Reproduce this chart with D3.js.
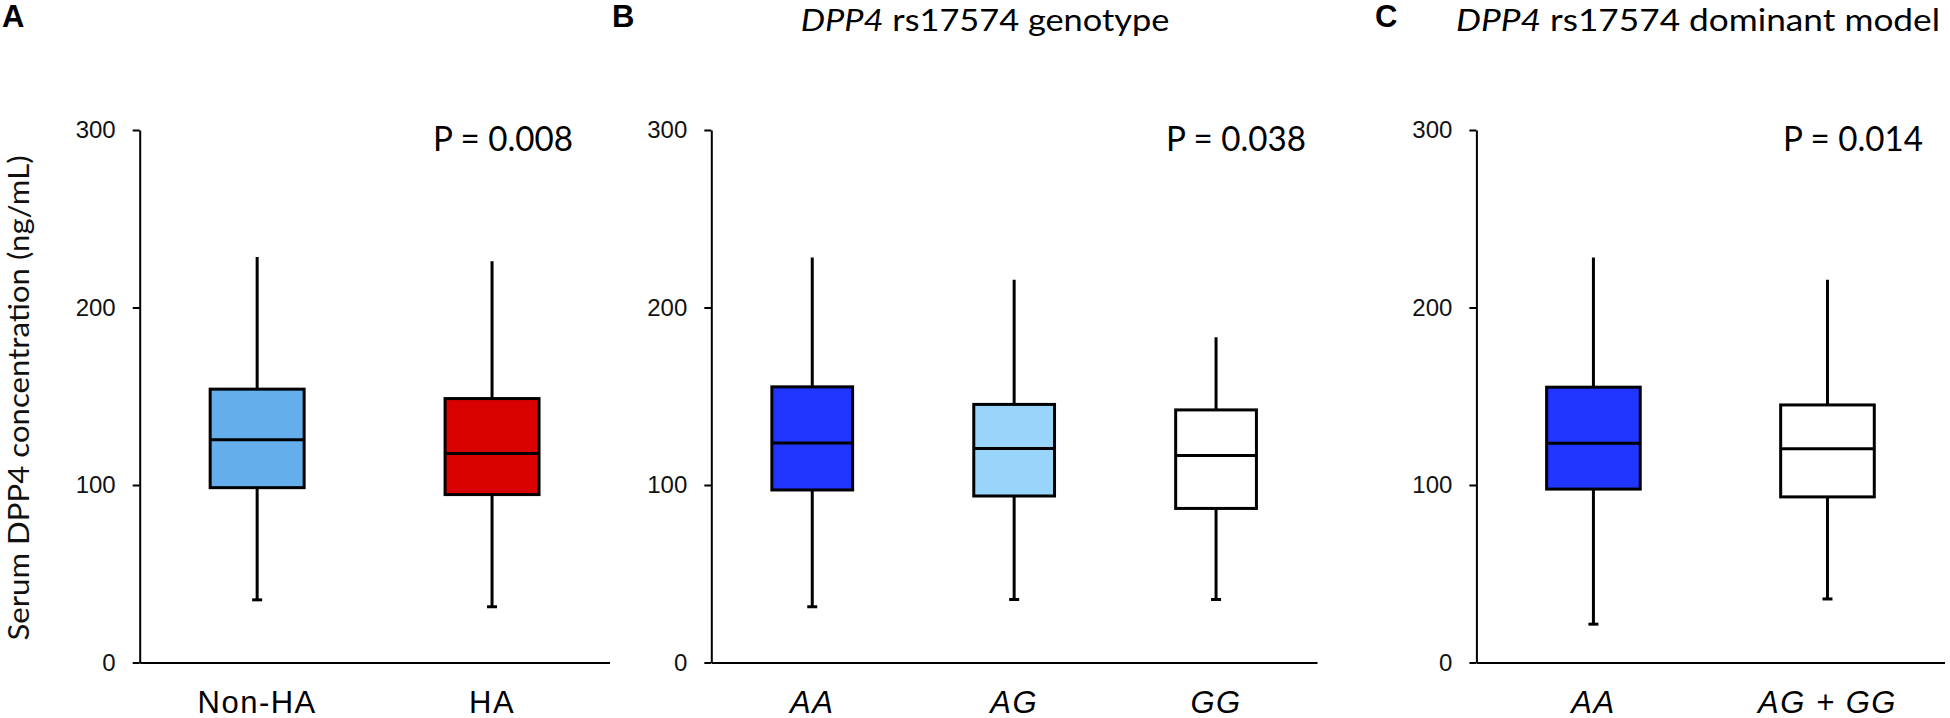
<!DOCTYPE html>
<html>
<head>
<meta charset="utf-8">
<script src="https://cdn.jsdelivr.net/npm/d3@7"></script>
<style>
    body { margin: 0; background: #fff; }
</style>
</head>
<body>
<svg id="chart" width="1950" height="718"></svg>
<script>

// values (ng/mL)
var yTicks = [0, 100, 200, 300];
var pValues = ["P = 0.008", "P = 0.038", "P = 0.014"];

var groupsA = ["Non-HA", "HA"];
var maxA = [228.5, 226.0];
var q3A = [154.0, 148.7];
var medA = [125.5, 117.8];
var q1A = [98.5, 94.6];
var minA = [35.3, 31.4];

var groupsB = ["AA", "AG", "GG"];
var maxB = [228.1, 215.7, 183.3];
var q3B = [155.3, 145.4, 142.3];
var medB = [123.7, 120.6, 116.6];
var q1B = [97.2, 93.8, 86.8];
var minB = [31.4, 35.5, 35.5];

var groupsC = ["AA", "AG + GG"];
var maxC = [228.1, 215.7];
var q3C = [155.1, 145.1];
var medC = [123.5, 120.4];
var q1C = [97.7, 93.3];
var minC = [21.6, 35.8];

var fillsA = ["#63aeeb", "#d90000"];
var fillsB = ["#2035ff", "#99d5fa", "#ffffff"];
var fillsC = ["#2035ff", "#ffffff"];

var panels = [
    {letter: "A", letterX: 2, groups: groupsA, max: maxA, q3: q3A, med: medA, q1: q1A, min: minA,
     fills: fillsA, x0: 139.7, x1: 609.5, p: pValues[0], pX: 433, italic: false, title: null},
    {letter: "B", letterX: 612, groups: groupsB, max: maxB, q3: q3B, med: medB, q1: q1B, min: minB,
     fills: fillsB, x0: 711.3, x1: 1317, p: pValues[1], pX: 1166, italic: true,
     title: ["DPP4", " rs17574 genotype"], titleX: 800.7, titleW: 368.6},
    {letter: "C", letterX: 1375, groups: groupsC, max: maxC, q3: q3C, med: medC, q1: q1C, min: minC,
     fills: fillsC, x0: 1476.4, x1: 1944.5, p: pValues[2], pX: 1783, italic: true,
     title: ["DPP4", " rs17574 dominant model"], titleX: 1456, titleW: 484}
];

var svg = d3.select("#chart");

var y = d3.scaleLinear()
    .domain([0, 300])
    .range([662.5, 130]);

var arial = "'Liberation Sans', Arial, sans-serif";
var calibri = "Lato, Carlito, Calibri, sans-serif";

// y axis title, shared by all panels
svg.append("text")
    .attr("transform", "translate(29,398) rotate(-90)")
    .attr("text-anchor", "middle")
    .attr("textLength", 485)
    .attr("lengthAdjust", "spacingAndGlyphs")
    .style("font-family", calibri)
    .style("font-size", "28px")
    .attr("fill", "#111")
    .text("Serum DPP4 concentration (ng/mL)");

panels.forEach(function(p) {

    var x = d3.scaleBand()
        .domain(p.groups)
        .range([p.x0, p.x1]);

    var boxW = x.bandwidth() * 0.4;

    var rows = p.groups.map(function(g, i) {
        return {key: g, max: p.max[i], q3: p.q3[i], med: p.med[i], q1: p.q1[i], min: p.min[i], fill: p.fills[i]};
    });

    // y axis
    var gy = svg.append("g")
        .attr("transform", "translate(" + p.x0 + ",0)")
        .call(d3.axisLeft(y).tickValues(yTicks).tickSizeInner(7).tickSizeOuter(0).tickPadding(17));
    gy.selectAll("path, line").attr("stroke", "#000").attr("stroke-width", 2);
    gy.selectAll("text")
        .style("font-family", arial)
        .style("font-size", "24px")
        .attr("fill", "#111");

    // x axis
    var gx = svg.append("g")
        .attr("transform", "translate(0," + y(0) + ")")
        .call(d3.axisBottom(x).tickSize(0).tickSizeOuter(0));
    gx.select(".domain").attr("stroke", "#000").attr("stroke-width", 2);
    gx.selectAll("text")
        .attr("y", 50)
        .attr("dy", 0)
        .style("font-family", arial)
        .style("font-size", "31px")
        .style("font-style", p.italic ? "italic" : "normal")
        .style("letter-spacing", "1.5px")
        .attr("fill", "#000");

    var box = svg.append("g").selectAll("g")
        .data(rows)
        .enter().append("g")
        .attr("transform", function(d) { return "translate(" + (x(d.key) + x.bandwidth() / 2) + ",0)"; });

    // whisker
    box.append("line")
        .attr("y1", function(d) { return y(d.max); })
        .attr("y2", function(d) { return y(d.min); })
        .attr("stroke", "#000")
        .attr("stroke-width", 3);

    // small cap at the low end
    box.append("line")
        .attr("x1", -5)
        .attr("x2", 5)
        .attr("y1", function(d) { return y(d.min); })
        .attr("y2", function(d) { return y(d.min); })
        .attr("stroke", "#000")
        .attr("stroke-width", 3);

    box.append("rect")
        .attr("x", -boxW / 2)
        .attr("width", boxW)
        .attr("y", function(d) { return y(d.q3); })
        .attr("height", function(d) { return y(d.q1) - y(d.q3); })
        .attr("fill", function(d) { return d.fill; })
        .attr("stroke", "#000")
        .attr("stroke-width", 3);

    box.append("line")
        .attr("x1", -boxW / 2)
        .attr("x2", boxW / 2)
        .attr("y1", function(d) { return y(d.med); })
        .attr("y2", function(d) { return y(d.med); })
        .attr("stroke", "#000")
        .attr("stroke-width", 3);

    // p value
    svg.append("text")
        .attr("x", p.pX)
        .attr("y", 151)
        .attr("textLength", 140)
        .attr("lengthAdjust", "spacingAndGlyphs")
        .style("font-family", calibri)
        .style("font-size", "34px")
        .attr("fill", "#000")
        .text(p.p);

    // panel letter
    svg.append("text")
        .attr("x", p.letterX)
        .attr("y", 27)
        .style("font-family", arial)
        .style("font-weight", "bold")
        .style("font-size", "31px")
        .attr("fill", "#000")
        .text(p.letter);

    if (p.title) {
        var t = svg.append("text")
            .attr("x", p.titleX)
            .attr("y", 31)
            .attr("textLength", p.titleW)
            .attr("lengthAdjust", "spacingAndGlyphs")
            .style("font-family", calibri)
            .style("font-size", "30px")
            .attr("fill", "#000");
        t.append("tspan").style("font-style", "italic").text(p.title[0]);
        t.append("tspan").text(p.title[1]);
    }
});

</script>
</body>
</html>
